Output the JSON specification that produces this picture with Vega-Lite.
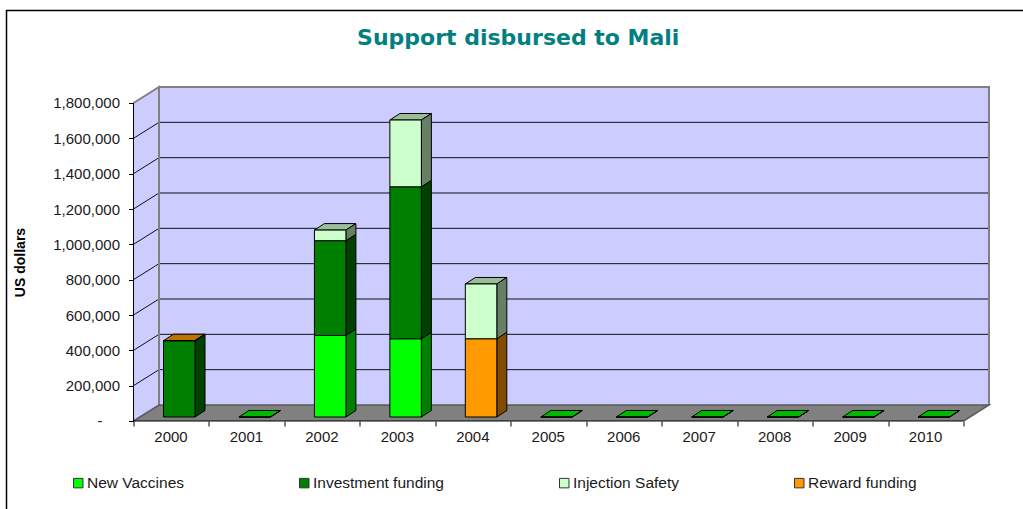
{
"$schema":"https://vega.github.io/schema/vega-lite/v6.json",
"width":855.5,"height":334,
"autosize":{"type":"none"},
"padding":{"left":133.5,"top":87,"right":34,"bottom":88},
"background":"white",
"title":{"text":"Support disbursed to Mali","anchor":"middle","frame":"group","dx":-43,"offset":-42,"font":"DejaVu Sans","fontSize":22,"fontWeight":"bold","color":"#008080"},
"config":{"view":{"stroke":null},"font":"Liberation Sans"},
"data":{"values":[
{"year":2000,"series":"Investment funding","value":432000},
{"year":2000,"series":"Reward funding","value":0},
{"year":2001,"series":"New Vaccines","value":0},
{"year":2002,"series":"New Vaccines","value":462000},
{"year":2002,"series":"Investment funding","value":536000},
{"year":2002,"series":"Injection Safety","value":60000},
{"year":2003,"series":"New Vaccines","value":443000},
{"year":2003,"series":"Investment funding","value":860000},
{"year":2003,"series":"Injection Safety","value":378000},
{"year":2004,"series":"Reward funding","value":443000},
{"year":2004,"series":"Injection Safety","value":310000},
{"year":2005,"series":"New Vaccines","value":0},
{"year":2006,"series":"New Vaccines","value":0},
{"year":2007,"series":"New Vaccines","value":0},
{"year":2008,"series":"New Vaccines","value":0},
{"year":2009,"series":"New Vaccines","value":0},
{"year":2010,"series":"New Vaccines","value":0}
]},
"transform":[
{"calculate":"indexof(['New Vaccines','Investment funding','Reward funding','Injection Safety'],datum.series)","as":"rank"},
{"stack":"value","groupby":["year"],"sort":[{"field":"rank","order":"ascending"}],"as":["y0","y1"]},
{"joinaggregate":[{"op":"max","field":"rank","as":"topRank"}],"groupby":["year"]},
{"calculate":"datum.year-2000+0.3976","as":"xL"},
{"calculate":"datum.xL+0.4175","as":"xR"},
{"calculate":"datum.y0+22640","as":"yb"},
{"calculate":"datum.y1+22640","as":"yt"},
{"calculate":"datum.year+datum.series","as":"key"}
],
"encoding":{
"x":{"field":"px","type":"quantitative","scale":{"domain":[0,11.338],"nice":false,"zero":false},
 "axis":{"title":null,"values":[0,1,2,3,4,5,6,7,8,9,10,11],"labelExpr":"datum.value<11 ? ''+(2000+datum.value) : ''","labelOffset":37,"labelFontSize":15,"labelColor":"#1a1a1a","labelPadding":3,"tickSize":5,"tickColor":"black","domain":false,"grid":false,"labelOverlap":false,"labelFlush":false}},
"y":{"field":"py","type":"quantitative","scale":{"domain":[0,1890566],"nice":false,"zero":false},
 "axis":{"title":"US dollars","titleX":-106.5,"titleY":175,"titleFontSize":14,"titleFontWeight":"bold","titleColor":"black","titleAngle":-90,"titleAlign":"center","titleBaseline":"bottom","values":[0,200000,400000,600000,800000,1000000,1200000,1400000,1600000,1800000],"labelExpr":"datum.value==0 ? '' : format(datum.value,',')","labelFontSize":15,"labelColor":"#1a1a1a","labelPadding":9,"tickSize":5,"tickColor":"black","domain":false,"grid":false,"labelOverlap":false,"labelFlush":false}}
},
"resolve":{"scale":{"fill":"independent"}},
"layer":[
{"data":{"values":[{"part":"back wall"}]},
 "transform":[{"calculate":"[0.338,11.338,11.338,0.338]","as":"px"},{"calculate":"[90566,90566,1890566,1890566]","as":"py"},{"calculate":"[0,1,2,3]","as":"o"},{"flatten":["px","py","o"]}],
 "mark":{"type":"line","interpolate":"linear-closed","fill":"#ccccff","strokeWidth":0},
 "encoding":{"order":{"field":"o"}}},
{"data":{"values":[{"part":"side wall"}]},
 "transform":[{"calculate":"[0,0.338,0.338,0]","as":"px"},{"calculate":"[0,90566,1890566,1800000]","as":"py"},{"calculate":"[0,1,2,3]","as":"o"},{"flatten":["px","py","o"]}],
 "mark":{"type":"line","interpolate":"linear-closed","fill":"#ccccff","strokeWidth":0},
 "encoding":{"order":{"field":"o"}}},
{"data":{"values":[{"part":"floor"}]},
 "transform":[{"calculate":"[0,11,11.338,0.338]","as":"px"},{"calculate":"[0,0,90566,90566]","as":"py"},{"calculate":"[0,1,2,3]","as":"o"},{"flatten":["px","py","o"]}],
 "mark":{"type":"line","interpolate":"linear-closed","fill":"#808080","strokeWidth":0},
 "encoding":{"order":{"field":"o"}}},
{"data":{"values":[{"v":200000},{"v":400000},{"v":600000},{"v":800000},{"v":1000000},{"v":1200000},{"v":1400000},{"v":1600000}]},
 "transform":[{"calculate":"[0,0.338,11.338]","as":"px"},{"calculate":"[datum.v,datum.v+90566,datum.v+90566]","as":"py"},{"calculate":"[0,1,2]","as":"o"},{"flatten":["px","py","o"]}],
 "mark":{"type":"line","stroke":"#111111","strokeWidth":1},
 "encoding":{"order":{"field":"o"},"detail":{"field":"v"}}},
{"data":{"values":[{"part":"wall edge"}]},
 "transform":[{"calculate":"[0,0.338,0.338,0.338,11.338,11.338]","as":"px"},{"calculate":"[1800000,1890566,90566,1890566,1890566,90566]","as":"py"},{"calculate":"[0,1,2,3,4,5]","as":"o"},{"flatten":["px","py","o"]}],
 "mark":{"type":"line","stroke":"#808080","strokeWidth":2,"strokeJoin":"miter"},
 "encoding":{"order":{"field":"o"}}},
{"data":{"values":[{"part":"floor edge"}]},
 "transform":[{"calculate":"[0,0.338,11.338,11]","as":"px"},{"calculate":"[0,90566,90566,0]","as":"py"},{"calculate":"[0,1,2,3]","as":"o"},{"flatten":["px","py","o"]}],
 "mark":{"type":"line","stroke":"#5a5a5a","strokeWidth":1.5},
 "encoding":{"order":{"field":"o"}}},
{"data":{"values":[{"part":"front axis"}]},
 "transform":[{"calculate":"[0,0,11]","as":"px"},{"calculate":"[1800000,0,0]","as":"py"},{"calculate":"[0,1,2]","as":"o"},{"flatten":["px","py","o"]}],
 "mark":{"type":"line","stroke":"black","strokeWidth":1},
 "encoding":{"order":{"field":"o"}}},
{"data":{"values":[{"part":"frame"}]},
 "transform":[{"calculate":"[-1.683,-1.683,11.79]","as":"px"},{"calculate":"[-498000,2323500,2323500]","as":"py"},{"calculate":"[0,1,2]","as":"o"},{"flatten":["px","py","o"]}],
 "mark":{"type":"line","stroke":"black","strokeWidth":1.5,"clip":false},
 "encoding":{"order":{"field":"o"}}},
{"data":{"values":[{"label":"-"}]},
 "transform":[{"calculate":"-0.444","as":"px"},{"calculate":"0","as":"py"}],
 "mark":{"type":"text","fontSize":15,"color":"#1a1a1a","align":"center","baseline":"middle"},
 "encoding":{"text":{"field":"label"}}},
{"transform":[{"filter":"datum.rank==datum.topRank"},
 {"calculate":"[datum.xL,datum.xR,datum.xR+0.1325,datum.xL+0.1325]","as":"px"},
 {"calculate":"[datum.yt,datum.yt,datum.yt+36800,datum.yt+36800]","as":"py"},
 {"calculate":"[0,1,2,3]","as":"o"},{"flatten":["px","py","o"]}],
 "mark":{"type":"line","interpolate":"linear-closed","stroke":"black","strokeWidth":1},
 "encoding":{"order":{"field":"o"},"detail":{"field":"key"},
  "fill":{"field":"series","type":"nominal","legend":null,"scale":{"domain":["New Vaccines","Investment funding","Injection Safety","Reward funding"],"range":["#00b800","#006000","#99bf99","#bf7300"]}}}},
{"transform":[
 {"calculate":"[datum.xR,datum.xR+0.1325,datum.xR+0.1325,datum.xR]","as":"px"},
 {"calculate":"[datum.yb,datum.yb+36800,datum.yt+36800,datum.yt]","as":"py"},
 {"calculate":"[0,1,2,3]","as":"o"},{"flatten":["px","py","o"]}],
 "mark":{"type":"line","interpolate":"linear-closed","stroke":"black","strokeWidth":1},
 "encoding":{"order":{"field":"o"},"detail":{"field":"key"},
  "fill":{"field":"series","type":"nominal","legend":null,"scale":{"domain":["New Vaccines","Investment funding","Injection Safety","Reward funding"],"range":["#008000","#004000","#668066","#804d00"]}}}},
{"transform":[{"calculate":"datum.xL","as":"px"},{"calculate":"datum.yb","as":"py"}],
 "mark":{"type":"rect","stroke":"black","strokeWidth":1},
 "encoding":{"x2":{"field":"xR"},"y2":{"field":"yt"},
  "fill":{"field":"series","type":"nominal","scale":{"domain":["New Vaccines","Investment funding","Injection Safety","Reward funding"],"range":["#00ff00","#008000","#ccffcc","#ff9900"]},
   "legend":{"title":null,"orient":"none","legendX":-63,"legendY":388,"direction":"horizontal","columns":4,"columnPadding":112,"symbolType":"square","symbolSize":90,"symbolStrokeColor":"#333333","symbolStrokeWidth":1,"labelFontSize":15.5,"labelColor":"#1a1a1a","labelOffset":1}}}}
]
}
